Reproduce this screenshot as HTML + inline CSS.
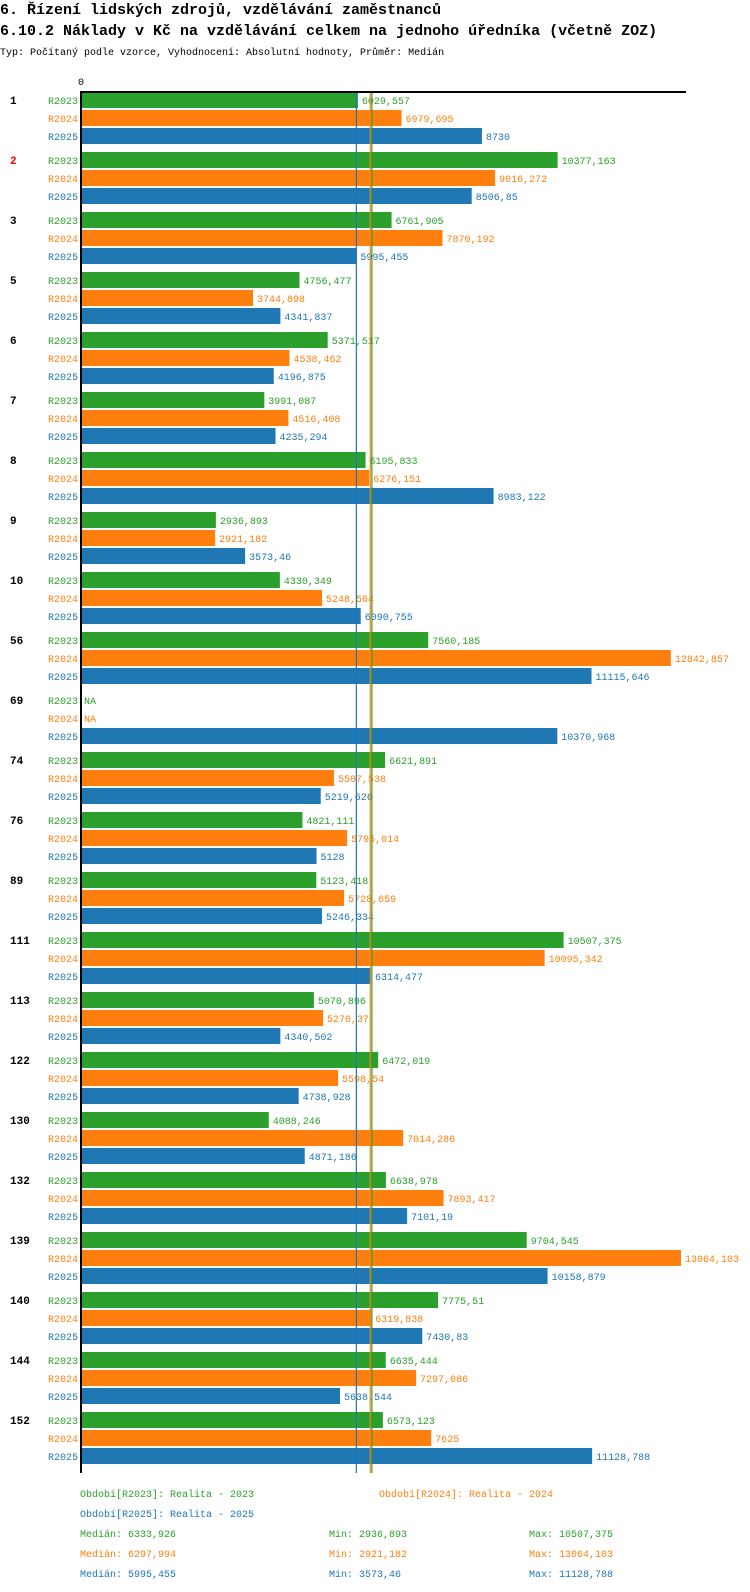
<!DOCTYPE html>
<html><head><meta charset="utf-8"><style>
html,body{margin:0;padding:0;background:#fff;}
svg{display:block;font-family:"Liberation Mono","DejaVu Sans Mono",monospace;}
</style></head><body>
<svg id="chart" width="750" height="1592" xmlns="http://www.w3.org/2000/svg">
<text x="0" y="14" font-size="15" font-weight="bold">6. Řízení lidských zdrojů, vzdělávání zaměstnanců</text>
<text x="0" y="35" font-size="15" font-weight="bold">6.10.2 Náklady v Kč na vzdělávání celkem na jednoho úředníka (včetně ZOZ)</text>
<text x="0" y="55" font-size="10">Typ: Počítaný podle vzorce, Vyhodnocení: Absolutní hodnoty, Průměr: Medián</text>
<text x="78" y="85" font-size="10">0</text>
<g id="bars"></g>
<g id="medians"></g>
<line x1="80" y1="92" x2="686" y2="92" stroke="#000" stroke-width="2"/>
<line x1="81" y1="91" x2="81" y2="1473" stroke="#000" stroke-width="2"/>
<g id="legend" font-size="10"></g>
</svg>
<script>
const categories = ["1","2","3","5","6","7","8","9","10","56","69","74","76","89","111","113","122","130","132","139","140","144","152"];
const r2023 = [6029.557,10377.163,6761.905,4756.477,5371.517,3991.087,6195.833,2936.893,4330.349,7560.185,null,6621.891,4821.111,5123.418,10507.375,5070.896,6472.019,4088.246,6638.978,9704.545,7775.51,6635.444,6573.123];
const r2024 = [6979.695,9016.272,7870.192,3744.898,4538.462,4516.408,6276.151,2921.182,5248.564,12842.857,null,5507.538,5795.014,5728.659,10095.342,5270.37,5598.54,7014.286,7893.417,13064.103,6319.838,7297.086,7625];
const r2025 = [8730,8506.85,5995.455,4341.837,4196.875,4235.294,8983.122,3573.46,6090.755,11115.646,10370.968,5219.626,5128,5246.334,6314.477,4340.502,4738.928,4871.186,7101.19,10158.879,7430.83,5638.544,11128.788];
const seriesNames = ["R2023","R2024","R2025"];
const medians = [6333.926,6297.994,5995.455];
const mins = [2936.893,2921.182,3573.46];
const maxs = [10507.375,13064.103,11128.788];
const highlighted = ["2"];

const colors = ["#2ca02c","#ff7f0e","#1f77b4"];
const NS = "http://www.w3.org/2000/svg";
const x0 = 81, scale = 600/13064.103;
const xPos = v => x0 + v*scale;
const top0 = 92, groupH = 60, rowH = 18, barH = 16;
const fmt = v => String(v).replace('.', ',');
function mk(tag, attrs, parent, text){
  const e = document.createElementNS(NS, tag);
  for (const k in attrs) e.setAttribute(k, attrs[k]);
  if (text !== undefined) e.textContent = text;
  parent.appendChild(e);
  return e;
}
const bars = document.getElementById('bars');
const series = [r2023, r2024, r2025];
categories.forEach((c, i) => {
  const gy = top0 + i*groupH;
  const gl = mk('text', {x: 10, y: gy + 12, 'font-size': 11, 'font-weight': 'bold', fill: highlighted.includes(c) ? '#ff0000' : '#000'}, bars, c);
  
  
  series.forEach((s, j) => {
    const y = gy + j*rowH;
    const sl = mk('text', {x: 78, y: y + 12, 'font-size': 10, 'text-anchor': 'end', fill: colors[j]}, bars, seriesNames[j]);
    
    
    const v = s[i];
    if (v === null) {
      const na = mk('text', {x: 84, y: y + 12, 'font-size': 10, fill: colors[j]}, bars, 'NA');
      
      
      return;
    }
    const r = mk('rect', {x: 82, y: y, width: Math.max(0, xPos(v) - 82), height: barH, fill: colors[j]}, bars);
    
    
    const t = mk('text', {x: xPos(v) + 4, y: y + 12, 'font-size': 10, fill: colors[j]}, bars, fmt(v));
    
    
  });
});
const med = document.getElementById('medians');
[2,1,0].forEach(j => {
  const l = mk('line', {x1: xPos(medians[j]), x2: xPos(medians[j]), y1: 92, y2: 1473, stroke: colors[j], 'stroke-width': 1.2}, med);
  
  
});
const lg = document.getElementById('legend');
const e1 = mk('text', {x: 80, y: 1497, fill: colors[0]}, lg, 'Období[R2023]: Realita - 2023');


const e2 = mk('text', {x: 379, y: 1497, fill: colors[1]}, lg, 'Období[R2024]: Realita - 2024');


const e3 = mk('text', {x: 80, y: 1517, fill: colors[2]}, lg, 'Období[R2025]: Realita - 2025');


[0,1,2].forEach(j => {
  const y = 1537 + j*20;
  const a = mk('text', {x: 80, y: y, fill: colors[j]}, lg, 'Medián: ' + fmt(medians[j]));
  
  
  const b = mk('text', {x: 329, y: y, fill: colors[j]}, lg, 'Min: ' + fmt(mins[j]));
  
  
  const d = mk('text', {x: 529, y: y, fill: colors[j]}, lg, 'Max: ' + fmt(maxs[j]));
  
  
});
</script>
</body></html>
